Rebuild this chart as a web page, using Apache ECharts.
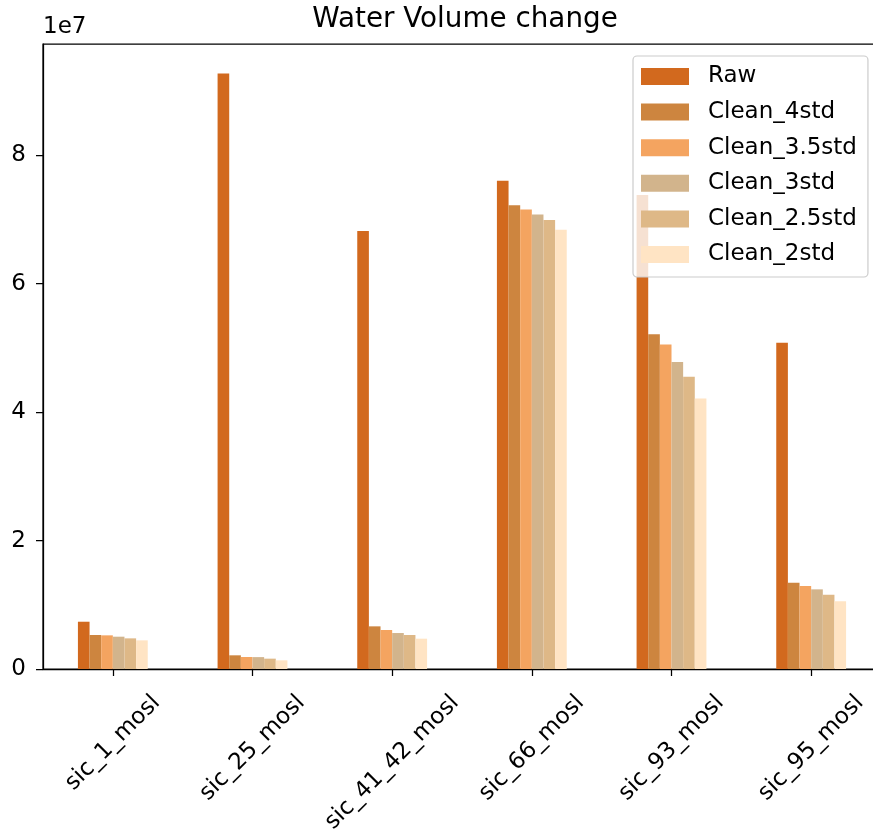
<!DOCTYPE html>
<html>
<head>
<meta charset="utf-8">
<script src="https://cdn.jsdelivr.net/npm/echarts@6/dist/echarts.min.js"></script>
<style>html,body{margin:0;padding:0;background:#fff}#chart{width:873px;height:829px}</style>
</head>
<body>
<div id="chart"></div>
<script>
const categories = ['sic_1_mosl', 'sic_25_mosl', 'sic_41_42_mosl', 'sic_66_mosl', 'sic_93_mosl', 'sic_95_mosl'];
const seriesNames = ['Raw', 'Clean_4std', 'Clean_3.5std', 'Clean_3std', 'Clean_2.5std', 'Clean_2std'];
const raw      = [7360000, 92700000, 68200000, 76000000, 73800000, 50800000];
const clean4   = [5290000,  2130000,  6640000, 72200000, 52100000, 13430000];
const clean35  = [5240000,  1870000,  6070000, 71550000, 50500000, 12920000];
const clean3   = [5030000,  1850000,  5600000, 70770000, 47800000, 12400000];
const clean25  = [4770000,  1610000,  5290000, 69900000, 45500000, 11570000];
const clean2   = [4460000,  1350000,  4720000, 68400000, 42100000, 10540000];
const yTicks = [0, 20000000, 40000000, 60000000, 80000000];
const yMax = 97300000;
const colors = ['#D2691E', '#CD853F', '#F4A460', '#D2B48C', '#DEB887', '#FFE4C4'];

const FONT = 'DejaVu Sans';
const FS = 23;
const allData = [raw, clean4, clean35, clean3, clean25, clean2];

// per-label padding so rotated labels are top-aligned like matplotlib
const cv = document.createElement('canvas').getContext('2d');
cv.font = FS + 'px "' + FONT + '"';
const widths = categories.map(c => cv.measureText(c).width);
const wMin = Math.min.apply(null, widths);
const rich = {};
categories.forEach((c, i) => {
  const p = (widths[i] - wMin) / 2;
  rich['p' + i] = { fontSize: FS, fontFamily: FONT, color: '#000', padding: [p, p, 0, 0] };
});

const chart = echarts.init(document.getElementById('chart'), null, { renderer: 'canvas' });
chart.setOption({
  animation: false,
  backgroundColor: '#fff',
  title: {
    text: 'Water Volume change',
    left: 460, top: 1, textAlign: 'center',
    textStyle: { fontFamily: FONT, fontSize: 27.8, fontWeight: 'normal', color: '#000' }
  },
  legend: {
    orient: 'vertical', left: 633, top: 56,
    padding: [9, 11, 11, 8],
    itemWidth: 48, itemHeight: 17, itemGap: 12.6,
    backgroundColor: 'rgba(255,255,255,0.8)',
    borderColor: '#cccccc', borderWidth: 1.2, borderRadius: 4,
    icon: 'rect',
    data: seriesNames,
    textStyle: { fontFamily: FONT, fontSize: FS, color: '#000', lineHeight: 22, padding: [0, 0, 0, 14] }
  },
  grid: {
    left: 43, top: 44, width: 838, height: 625,
    outerBoundsMode: 'none', containLabel: false,
    show: true, borderColor: '#000', borderWidth: 1.25, backgroundColor: 'transparent'
  },
  xAxis: {
    type: 'category', data: categories, boundaryGap: true,
    axisLine: { lineStyle: { color: '#000', width: 1.25 } },
    axisTick: { show: true, alignWithLabel: true, length: 7, lineStyle: { color: '#000', width: 1.25 } },
    axisLabel: {
      interval: 0, rotate: 45, align: 'center', verticalAlign: 'middle', margin: 74,
      fontFamily: FONT, fontSize: FS, color: '#000',
      formatter: (v, i) => '{p' + i + '|' + v + '}',
      rich: rich
    },
    splitLine: { show: false }
  },
  yAxis: {
    type: 'value', min: 0, max: yMax,
    name: '1e7', nameLocation: 'end', nameGap: 5,
    nameTextStyle: { fontFamily: FONT, fontSize: FS, color: '#000', align: 'left', verticalAlign: 'bottom' },
    axisLine: { show: true, lineStyle: { color: '#000', width: 1.25 } },
    axisTick: { show: true, length: 7, customValues: yTicks, lineStyle: { color: '#000', width: 1.25 } },
    axisLabel: {
      customValues: yTicks, margin: 17,
      fontFamily: FONT, fontSize: FS, color: '#000',
      formatter: v => String(Math.round(v / 1e7))
    },
    splitLine: { show: false }
  },
  series: seriesNames.map((n, i) => ({
    name: n, type: 'bar', data: allData[i],
    barGap: '0%', barCategoryGap: '50%',
    itemStyle: { color: colors[i] },
    emphasis: { disabled: true }
  }))
});
</script>
</body>
</html>
